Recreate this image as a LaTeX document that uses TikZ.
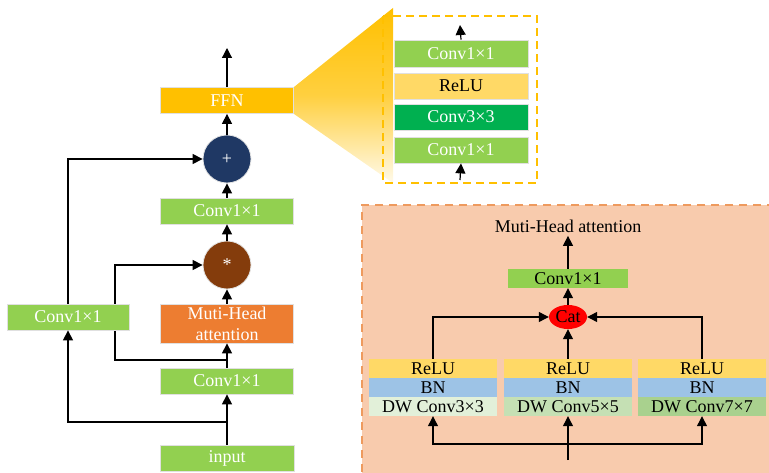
\documentclass[tikz,border=0pt]{standalone}
\usepackage{fontspec}
\setmainfont{Liberation Serif}
\usetikzlibrary{arrows.meta,backgrounds,shapes.geometric}

\definecolor{ffnC}{HTML}{FFC000}
\definecolor{convC}{HTML}{92D050}
\definecolor{mhaC}{HTML}{ED7D31}
\definecolor{addC}{HTML}{1F3864}
\definecolor{mulC}{HTML}{843C0C}
\definecolor{reluC}{HTML}{FFD966}
\definecolor{deepC}{HTML}{00B050}
\definecolor{bnC}{HTML}{9DC3E6}
\definecolor{dwA}{HTML}{E2F0D9}
\definecolor{dwB}{HTML}{C5E0B4}
\definecolor{dwC}{HTML}{A9D18E}
\definecolor{panelC}{HTML}{F8CBAD}
\definecolor{panelE}{HTML}{EE9A5E}

\tikzset{
  blk/.style={rectangle, fill=#1, draw=black!12, line width=0.8pt,
    minimum width=133pt, minimum height=26pt, inner sep=0pt,
    text=white, font=\fontsize{18}{21}\selectfont},
  cell/.style={rectangle, fill=#1, minimum width=128pt, minimum height=19pt,
    inner sep=0pt, font=\fontsize{18}{19}\selectfont},
  sum/.style={circle, fill=#1, draw=black!10, line width=0.8pt,
    minimum size=48pt, inner sep=0pt, text=white,
    font=\fontsize{18}{18}\selectfont},
  arr/.style={-{Triangle[width=10pt,length=10pt]}, line width=1.2pt}
}

\begin{document}
\begin{tikzpicture}[x=1pt,y=-1pt]
\useasboundingbox (0,0) rectangle (769,473);

% ===== Main branch =====
\node[blk=ffnC] (ffn) at (227,100.5) {FFN};
\node[sum=addC] (add) at (227,159) {+};
\node[blk=convC] (convb) at (227,211) {Conv1×1};
\node[sum=mulC] (mul) at (227,265) {*};
\node[blk=mhaC, minimum height=39pt, align=center] (mha) at (227,323.5) {Muti-Head\\attention};
\node[blk=convC] (conva) at (227,381) {Conv1×1};
\node[blk=convC, minimum width=134pt] (input) at (227,458) {input};
\node[blk=convC, minimum width=122pt] (convs) at (68,317) {Conv1×1};

\coordinate (out) at (227,48);
\coordinate (brA) at (227,422);
\coordinate (brB) at (227,360);
\coordinate (knee) at (115,265);

\draw[arr] (ffn.north) -- (out);
\draw[arr] (add.north) -- (ffn.south);
\draw[arr] (convb.north) -- (add.south);
\draw[arr] (mul.north) -- (convb.south);
\draw[arr] (mha.north) -- (mul.south);
\draw[arr] (conva.north) -- (mha.south);
\draw[arr] (input.north) -- (conva.south);
\draw[arr] (brA) -| (convs.south);
\draw[arr] (convs.north) |- (add.west);

% ===== FFN detail =====
\node[blk=convC, minimum width=134pt, minimum height=27pt] (fa) at (461,53.5) {Conv1×1};
\node[blk=reluC, minimum width=134pt, text=black] (fb) at (461,86) {ReLU};
\node[blk=deepC, minimum width=134pt] (fc) at (461,117) {Conv3×3};
\node[blk=convC, minimum width=134pt] (fd) at (461,150) {Conv1×1};

\coordinate (fin) at (460,180);
\coordinate (fout) at (460,25);
\draw[arr] (fin) -- (fd.south);
\draw[arr] (fa.north) -- (fout);

% ===== Multi-scale attention detail =====
\node[font=\fontsize{18}{19}\selectfont] (mhaout) at (568,226) {Muti-Head attention};
\node[cell=convC, minimum width=120pt] (pconv) at (568,278.5) {Conv1×1};
\node[ellipse, fill=red, minimum width=38pt, minimum height=24pt, inner sep=0pt,
  font=\fontsize{18}{19}\selectfont] (cat) at (568,317) {Cat};

\foreach \n/\cx/\k/\dw in {a/433/3/dwA, b/568/5/dwB, c/702/7/dwC} {
  \node[cell=reluC] (relu\n) at (\cx,368.5) {ReLU};
  \node[cell=bnC] (bn\n) at (\cx,387.5) {BN};
  \node[cell=\dw] (dw\n) at (\cx,406.5) {DW Conv\k×\k};
}

\coordinate (pin) at (568,460);
\coordinate (pbr) at (568,444);
\draw[arr] (pconv.north) -- (mhaout.south);
\draw[arr] (cat.north) -- (pconv.south);
\draw[arr] (relub.north) -- (cat.south);
\draw[arr] (relua.north) |- (cat.west);
\draw[arr] (reluc.north) |- (cat.east);
\draw[arr] (pin) -- (dwb.south);
\draw[arr] (pbr) -| (dwa.south);
\draw[arr] (pbr) -| (dwc.south);

% ===== Background =====
\begin{scope}[on background layer]
  \fill[panelC] (362,205) rectangle (775,480);
  \draw[panelE, line width=1.2pt, dash pattern=on 8pt off 6pt] (775,205) -- (362,205) -- (362,480);
  \shade[top color=ffnC, bottom color=ffnC!8, middle color=ffnC!75]
    (ffn.north east) -- (393,8) -- (393,183) -- (ffn.south east) -- cycle;
  \draw[ffnC, line width=1.2pt, dash pattern=on 8pt off 5pt] (383,16) rectangle (537,183);
  \draw[arr] (brB) -| (knee) -- (mul.west);
\end{scope}

\end{tikzpicture}
\end{document}
